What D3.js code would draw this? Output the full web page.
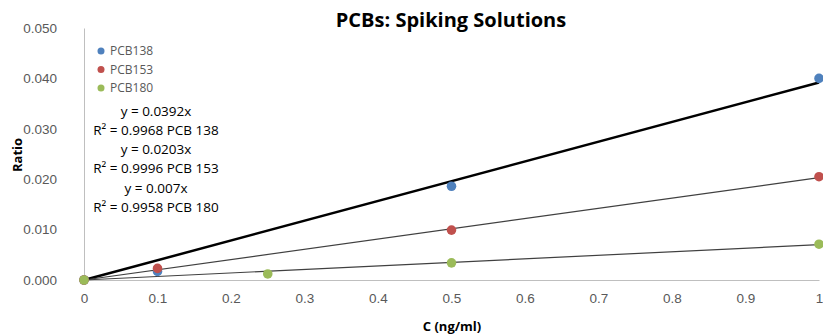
<!DOCTYPE html>
<html><head><meta charset="utf-8">
<script src="https://cdn.jsdelivr.net/npm/d3@7"></script>
<style>body{margin:0;background:#fff;}svg{display:block;font-family:"Open Sans","Liberation Sans",sans-serif;}</style>
</head><body>
<script>
const seriesNames = ["PCB138", "PCB153", "PCB180"];
const seriesColors = ["#4F81BD", "#C0504D", "#9BBB59"];
const pcb138 = [[0, 0], [0.1, 0.0017], [0.5, 0.0186], [1, 0.0400]];
const pcb153 = [[0, 0], [0.1, 0.0023], [0.5, 0.0099], [1, 0.0205]];
const pcb180 = [[0, 0], [0.25, 0.0012], [0.5, 0.0034], [1, 0.0071]];
const slopes = [0.0392, 0.0203, 0.007];
const equationLines = ["y = 0.0392x", "R² = 0.9968 PCB 138", "y = 0.0203x", "R² = 0.9996 PCB 153", "y = 0.007x", "R² = 0.9958 PCB 180"];
const xTicks = [0, 0.1, 0.2, 0.3, 0.4, 0.5, 0.6, 0.7, 0.8, 0.9, 1];
const yTicks = [0, 0.01, 0.02, 0.03, 0.04, 0.05];

const W = 823, H = 336;
const svg = d3.select("body").append("svg").attr("width", W).attr("height", H);
const x = d3.scaleLinear().domain([0, 1]).range([84, 819]);
const y = d3.scaleLinear().domain([0, 0.05]).range([280, 28]);

// axes
const xAxis = d3.axisBottom(x).tickValues(xTicks).tickSize(0).tickPadding(13).tickFormat(d => d === 0 || d === 1 ? d3.format("d")(d) : d3.format(".1f")(d));
const gx = svg.append("g").attr("transform", "translate(0,280)").call(xAxis);
gx.select(".domain").attr("stroke", "#bfbfbf");
gx.selectAll("text").attr("fill", "#595959").attr("font-size", 13.5);

const yAxis = d3.axisLeft(y).tickValues(yTicks).tickSize(0).tickPadding(27).tickFormat(d3.format(".3f"));
const gy = svg.append("g").attr("transform", "translate(84,0)").call(yAxis);
gy.select(".domain").attr("stroke", "#bfbfbf");
gy.selectAll("text").attr("fill", "#595959").attr("font-size", 13.5);

// trendlines
const lineWidths = [2.5, 1.2, 1.2];
const lineColors = ["#000", "#404040", "#404040"];
slopes.forEach((s, i) => {
  svg.append("line")
    .attr("x1", x(0)).attr("y1", y(0)).attr("x2", x(1)).attr("y2", y(s))
    .attr("stroke", lineColors[i]).attr("stroke-width", lineWidths[i]);
});

// points
[pcb138, pcb153, pcb180].forEach((data, i) => {
  svg.append("g").selectAll("circle").data(data).join("circle")
    .attr("cx", d => x(d[0])).attr("cy", d => y(d[1])).attr("r", 4.8)
    .attr("fill", seriesColors[i]);
});

// titles
svg.append("text").attr("x", 451).attr("y", 27).attr("text-anchor", "middle")
  .attr("font-size", 20).attr("font-weight", "bold").attr("fill", "#000").text("PCBs: Spiking Solutions");
svg.append("text").attr("x", 452).attr("y", 331).attr("text-anchor", "middle")
  .attr("font-size", 13).attr("font-weight", "bold").attr("fill", "#000").text("C (ng/ml)");
svg.append("text").attr("transform", "translate(22,155) rotate(-90)").attr("text-anchor", "middle")
  .attr("font-size", 13).attr("font-weight", "bold").attr("fill", "#000").text("Ratio");

// legend
const leg = svg.append("g");
seriesNames.forEach((n, i) => {
  leg.append("circle").attr("cx", 101).attr("cy", 51 + i * 18.5).attr("r", 3.5).attr("fill", seriesColors[i]);
  leg.append("text").attr("x", 110).attr("y", 55 + i * 18.5).attr("font-size", 12).attr("fill", "#595959").text(n);
});

// equations
const eqY = [116, 135, 154, 173, 193, 212];
equationLines.forEach((t, i) => {
  svg.append("text").attr("x", 156).attr("y", eqY[i]).attr("text-anchor", "middle")
    .attr("font-size", 13.5).attr("fill", "#000").text(t);
});
</script>
</body></html>
